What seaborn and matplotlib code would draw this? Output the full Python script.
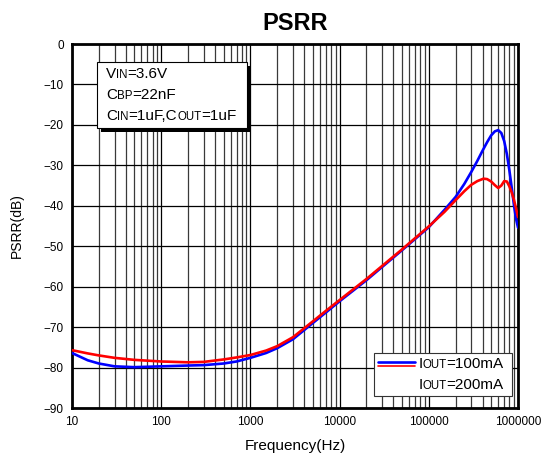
import numpy as np
import pandas as pd
import seaborn as sns
import matplotlib
matplotlib.use("Agg")
import matplotlib.pyplot as plt
import matplotlib.ticker as mticker
from matplotlib.offsetbox import TextArea, HPacker, VPacker, AnchoredOffsetbox, DrawingArea
from matplotlib.lines import Line2D
import matplotlib.patheffects as pe

# ---- data ----
freq_100 = [10, 15, 20, 30, 50, 100, 200, 300, 500, 700, 1000, 1500, 2000, 3000, 5000, 7000,
            10000, 20000, 50000, 100000, 150000, 200000, 250000, 300000, 350000, 400000, 450000,
            500000, 550000, 600000, 650000, 700000, 750000, 800000, 850000, 900000, 950000, 1000000]
psrr_100 = [-76.4, -78.2, -79.0, -79.7, -79.9, -79.7, -79.5, -79.4, -79.0, -78.5, -77.6, -76.4, -75.2,
            -73.0, -69.0, -66.4, -63.6, -58.4, -51.0, -45.3, -41.0, -37.8, -34.6, -31.6, -28.9, -26.4,
            -24.3, -22.6, -21.6, -21.3, -22.0, -24.0, -27.2, -31.2, -35.5, -39.8, -43.2, -45.4]
freq_200 = [10, 15, 20, 30, 50, 100, 200, 300, 500, 700, 1000, 1500, 2000, 3000, 5000, 7000,
            10000, 20000, 50000, 100000, 150000, 200000, 250000, 300000, 350000, 410000, 450000,
            500000, 550000, 600000, 650000, 700000, 750000, 800000, 850000, 900000, 950000, 1000000]
psrr_200 = [-75.7, -76.5, -77.0, -77.6, -78.1, -78.5, -78.7, -78.6, -78.0, -77.5, -76.9, -75.8, -74.7,
            -72.5, -68.6, -66.0, -63.3, -58.1, -50.8, -45.1, -41.5, -38.6, -36.4, -34.8, -33.9, -33.3,
            -33.4, -34.0, -34.9, -35.6, -35.0, -33.9, -34.0, -35.2, -36.7, -38.5, -40.6, -42.8]
series_labels = ["IOUT=100mA", "IOUT=200mA"]
x_ticks = [10, 100, 1000, 10000, 100000, 1000000]
y_ticks = [0, -10, -20, -30, -40, -50, -60, -70, -80, -90]

df = pd.concat([
    pd.DataFrame({"Frequency": freq_100, "PSRR": psrr_100, "Series": series_labels[0]}),
    pd.DataFrame({"Frequency": freq_200, "PSRR": psrr_200, "Series": series_labels[1]}),
])

sns.set_style("white")
plt.rcParams['font.family'] = ['Liberation Sans', 'DejaVu Sans']
plt.rcParams.update({"text.color": "black", "axes.labelcolor": "black",
                     "xtick.color": "black", "ytick.color": "black"})

fig = plt.figure(figsize=(5.48, 4.61), dpi=100)
ax = fig.add_axes([72/548, 53/461, 446/548, 364/461])

ax.set_xscale("log")
ax.set_xlim(10, 1e6)
ax.set_ylim(-90, 0)
ax.set_xticks(x_ticks)
ax.xaxis.set_major_formatter(mticker.FuncFormatter(lambda v, _: f"{int(round(v))}"))
ax.xaxis.set_minor_locator(mticker.LogLocator(base=10, subs=np.arange(2, 10)))
ax.xaxis.set_minor_formatter(mticker.NullFormatter())
ax.set_yticks(y_ticks)
ax.yaxis.set_minor_locator(mticker.NullLocator())

ax.grid(True, which="major", color="black", lw=0.9)
ax.grid(True, which="minor", axis="x", color="#3a3a3a", lw=0.9)
ax.set_axisbelow(True)

sns.lineplot(data=df, x="Frequency", y="PSRR", hue="Series", palette=["#0000ff", "#ff0000"],
             linewidth=1.9, ax=ax, legend=False, zorder=3)

for s in ax.spines.values():
    s.set_linewidth(2.0)
    s.set_color("black")
ax.tick_params(which="both", length=0, labelsize=8.5, pad=6)

ax.set_xlabel("Frequency(Hz)", fontsize=11, labelpad=8)
ax.set_ylabel("PSRR(dB)", fontsize=10, labelpad=14)
ax.set_title("PSRR", fontsize=17, fontweight="bold", pad=10)

BIG, SMALL = 11, 8.3

def row(parts):
    return HPacker(children=[TextArea(t, textprops=dict(fontsize=s, color="black")) for t, s in parts],
                   align="baseline", pad=0, sep=0)

# condition box
info = VPacker(children=[
    row([("V", BIG), ("IN", SMALL), ("=3.6V", BIG)]),
    row([("C", BIG), ("BP", SMALL), ("=22nF", BIG)]),
    row([("C", BIG), ("IN", SMALL), ("=1uF,C", BIG), ("OUT", SMALL), ("=1uF", BIG)]),
], align="left", pad=0, sep=5)
info_padded = HPacker(children=[DrawingArea(3, 1), info, DrawingArea(4, 1)], align="center", pad=0, sep=0)
ab = AnchoredOffsetbox(loc="upper left", child=info_padded, pad=0.35, frameon=True,
                       bbox_to_anchor=(0.056, 0.95), bbox_transform=ax.transAxes, borderpad=0)
ab.patch.set_boxstyle("square", pad=0)
ab.patch.set_edgecolor("black")
ab.patch.set_linewidth(0.8)
ab.patch.set_path_effects([pe.withSimplePatchShadow(offset=(3, -3), shadow_rgbFace="black", alpha=1)])
ab.zorder = 5
ax.add_artist(ab)

# legend box
da1 = DrawingArea(27, 10, 0, 0)
da1.add_artist(Line2D([0, 27], [6.5, 6.5], color="#0000ff", lw=1.9))
da1.add_artist(Line2D([0, 27], [3.5, 3.5], color="#ff0000", lw=1.2))
da2 = DrawingArea(27, 10, 0, 0)
leg_rows = VPacker(children=[
    HPacker(children=[da1, row([("I", BIG), ("OUT", SMALL), ("=100mA", BIG)])], align="center", pad=0, sep=2),
    HPacker(children=[da2, row([("I", BIG), ("OUT", SMALL), ("=200mA", BIG)])], align="center", pad=0, sep=2),
], align="left", pad=0, sep=5)
leg_padded = HPacker(children=[leg_rows, DrawingArea(3, 1)], align="center", pad=0, sep=0)
lb = AnchoredOffsetbox(loc="lower right", child=leg_padded, pad=0.28, frameon=True,
                       bbox_to_anchor=(0.986, 0.033), bbox_transform=ax.transAxes, borderpad=0)
lb.patch.set_boxstyle("square", pad=0)
lb.patch.set_edgecolor("#333333")
lb.patch.set_linewidth(0.8)
lb.zorder = 5
ax.add_artist(lb)

fig.savefig("out.png", dpi=100)
